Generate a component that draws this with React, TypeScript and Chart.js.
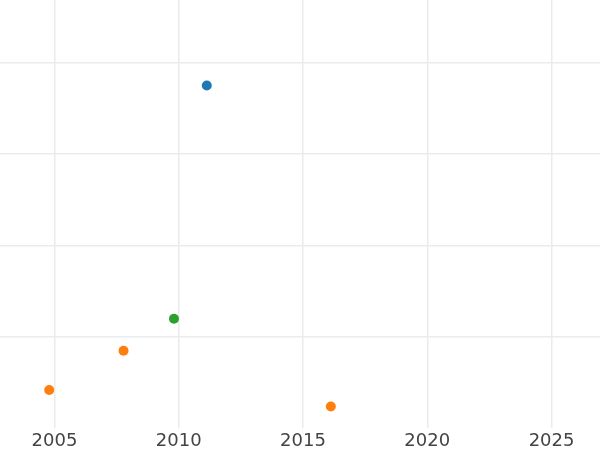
import React, { useEffect, useRef } from "react";
import { Chart, registerables } from "chart.js";

Chart.register(...registerables);

// Series data (x = year, y = value in grid units)
const blueYears = [2011.13];
const blueValues = [3.75];
const orangeYears = [2004.79, 2007.78, 2016.12];
const orangeValues = [0.42, 0.85, 0.24];
const greenYears = [2009.81];
const greenValues = [1.2];

const xTickStep = 5;
const xMin = 2002.81;
const xMax = 2026.95;
const yMin = 0;
const yMax = 4.685;

const toPoints = (xs: number[], ys: number[]) => xs.map((x, i) => ({ x, y: ys[i] }));

export default function App() {
  const ref = useRef<HTMLCanvasElement | null>(null);
  useEffect(() => {
    if (!ref.current) return;
    const ds = (label: string, xs: number[], ys: number[], color: string) => ({
      label,
      data: toPoints(xs, ys),
      backgroundColor: color,
      borderColor: color,
      borderWidth: 0,
      pointRadius: 5,
      pointHoverRadius: 5,
    });
    const chart = new Chart(ref.current, {
      type: "scatter",
      data: {
        datasets: [
          ds("A", blueYears, blueValues, "#1f77b4"),
          ds("B", orangeYears, orangeValues, "#ff7f0e"),
          ds("C", greenYears, greenValues, "#2ca02c"),
        ],
      },
      options: {
        animation: false,
        responsive: true,
        maintainAspectRatio: false,
        layout: { padding: { top: 0, left: 0, right: 0, bottom: -4 }, autoPadding: false },
        plugins: { legend: { display: false }, tooltip: { enabled: false } },
        scales: {
          x: {
            type: "linear",
            min: xMin,
            max: xMax,
            border: { display: false },
            grid: { color: "#ebebeb", lineWidth: 1.5, drawTicks: false },
            ticks: {
              stepSize: xTickStep,
              includeBounds: false,
              padding: 2,
              color: "#444444",
              font: { family: "DejaVu Sans", size: 18 },
              callback: (v: any) => String(v),
            },
          },
          y: {
            type: "linear",
            min: yMin,
            max: yMax,
            border: { display: false },
            grid: {
              color: (ctx: any) => (ctx.tick && ctx.tick.value === 0 ? "rgba(0,0,0,0)" : "#ebebeb"),
              lineWidth: 1.5,
              drawTicks: false,
            },
            ticks: { display: false, stepSize: 1, includeBounds: false },
          },
        },
      },
    });
    return () => chart.destroy();
  }, []);
  return (
    <div style={{ position: "fixed", left: 0, top: 0, width: 600, height: 450, background: "#fff" }}>
      <canvas ref={ref} />
    </div>
  );
}
